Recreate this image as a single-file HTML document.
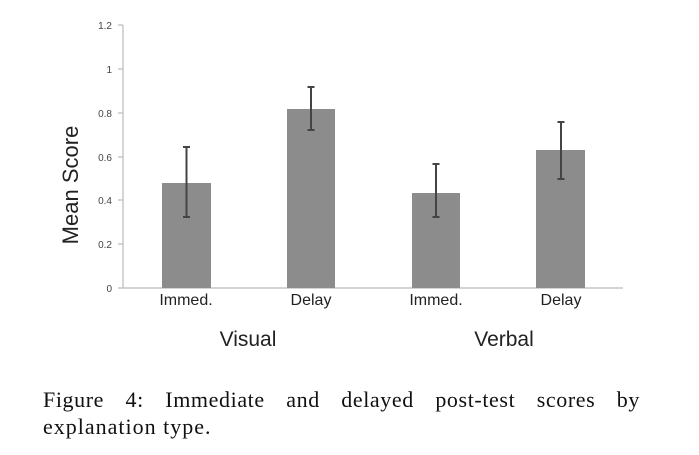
<!DOCTYPE html>
<html><head><meta charset="utf-8"><style>
html,body{margin:0;padding:0;background:#fff;}
svg{display:block;position:absolute;left:0;top:0;}
.cap{position:absolute;left:43px;width:597px;font-family:"Liberation Serif","DejaVu Serif",serif;font-size:22px;color:#111;line-height:22px;white-space:nowrap;}
</style></head><body>
<svg width="699" height="455" xmlns="http://www.w3.org/2000/svg">
<g font-family="Liberation Sans, DejaVu Sans, sans-serif" fill="#444" font-size="10" text-anchor="end">
<text x="112" y="292">0</text>
<text x="112" y="248">0.2</text>
<text x="112" y="204">0.4</text>
<text x="112" y="161">0.6</text>
<text x="112" y="117">0.8</text>
<text x="112" y="73">1</text>
<text x="112" y="29">1.2</text>
</g>
<g stroke="#bbb" stroke-width="1.2">
<line x1="123" y1="25" x2="123" y2="288"/>
<line x1="118" y1="288" x2="623" y2="288"/>
<line x1="118" y1="244" x2="123" y2="244"/>
<line x1="118" y1="200" x2="123" y2="200"/>
<line x1="118" y1="157" x2="123" y2="157"/>
<line x1="118" y1="113" x2="123" y2="113"/>
<line x1="118" y1="69" x2="123" y2="69"/>
<line x1="118" y1="25" x2="123" y2="25"/>
</g>
<g fill="#8c8c8c">
<rect x="162" y="183" width="49" height="105"/>
<rect x="287" y="109" width="48" height="179"/>
<rect x="412" y="193" width="48" height="95"/>
<rect x="536" y="150" width="49" height="138"/>
</g>
<g stroke="#444" stroke-width="2">
<line x1="186.5" y1="147" x2="186.5" y2="217"/><line x1="183" y1="147" x2="190" y2="147"/><line x1="183" y1="217" x2="190" y2="217"/>
<line x1="311" y1="87" x2="311" y2="130"/><line x1="307.5" y1="87" x2="314.5" y2="87"/><line x1="307.5" y1="130" x2="314.5" y2="130"/>
<line x1="436" y1="164" x2="436" y2="217"/><line x1="432.5" y1="164" x2="439.5" y2="164"/><line x1="432.5" y1="217" x2="439.5" y2="217"/>
<line x1="561" y1="122" x2="561" y2="179"/><line x1="557.5" y1="122" x2="564.5" y2="122"/><line x1="557.5" y1="179" x2="564.5" y2="179"/>
</g>
<g font-family="Liberation Sans, DejaVu Sans, sans-serif" fill="#222" text-anchor="middle">
<text x="186" y="305" font-size="16">Immed.</text>
<text x="311" y="305" font-size="16">Delay</text>
<text x="436" y="305" font-size="16">Immed.</text>
<text x="561" y="305" font-size="16">Delay</text>
<text x="248" y="346" font-size="21">Visual</text>
<text x="504" y="346" font-size="21">Verbal</text>
<text transform="translate(78,185) rotate(-90)" font-size="22">Mean  Score</text>
</g>
</svg>
<div class="cap" style="top:389px;text-align:justify;text-align-last:justify;letter-spacing:0.6px;">Figure 4: Immediate and delayed post-test scores by</div>
<div class="cap" style="top:416px;letter-spacing:1px;">explanation type.</div>
</body></html>
